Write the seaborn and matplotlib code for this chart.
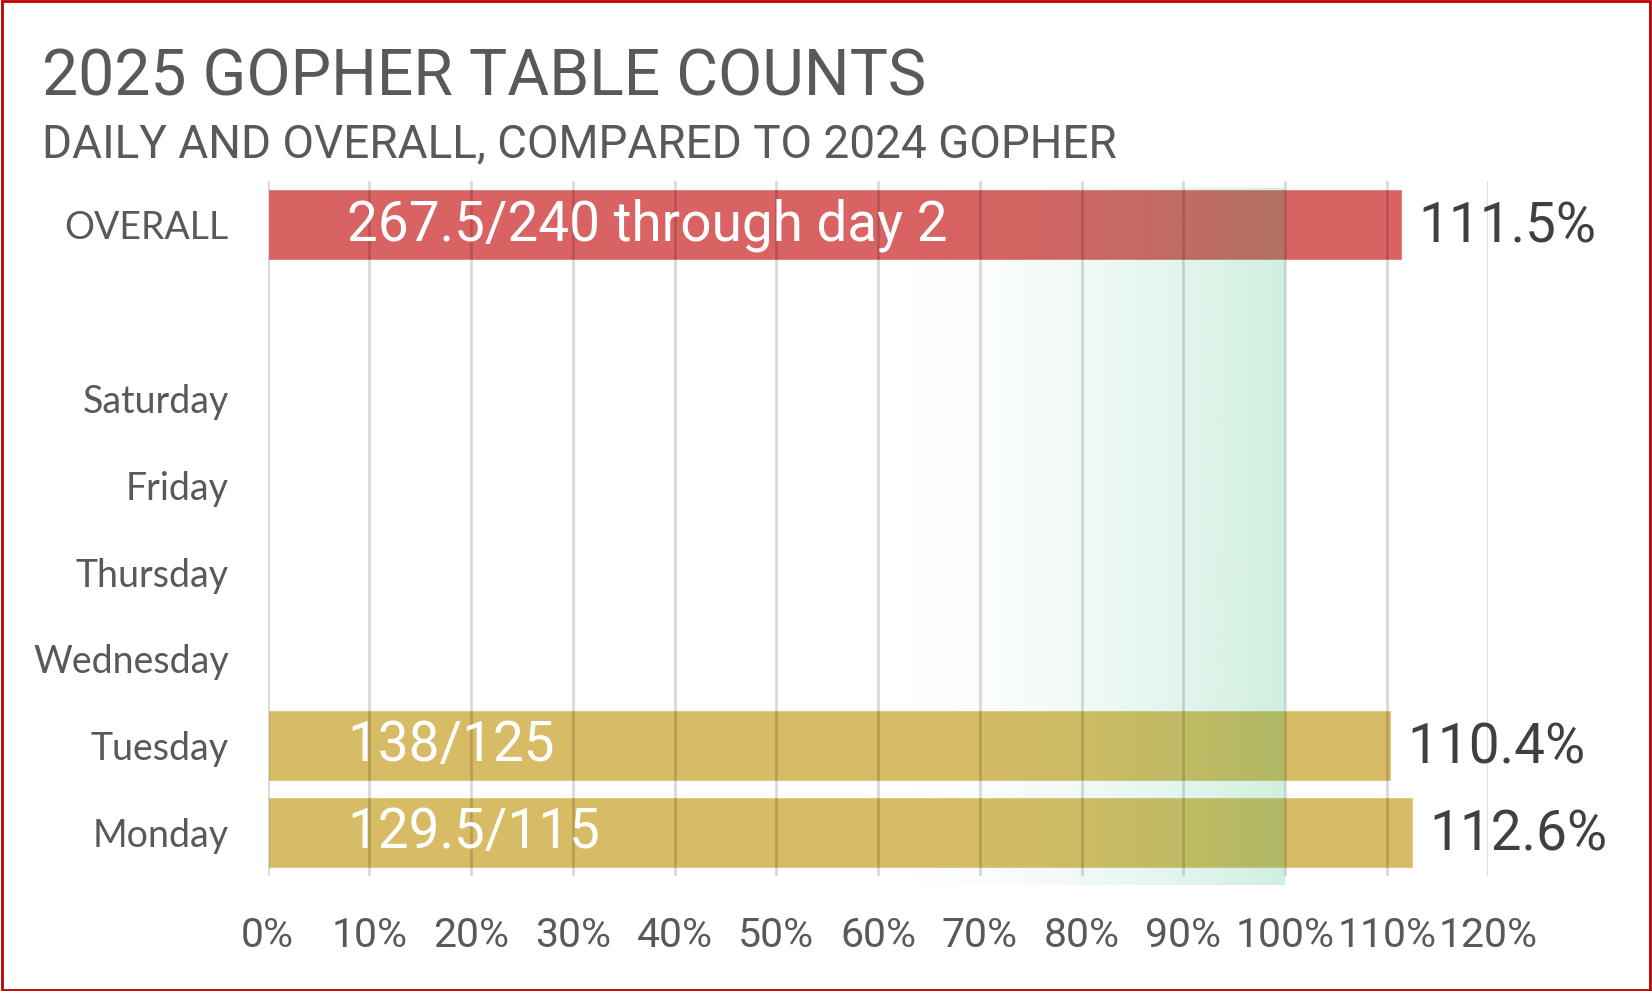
import numpy as np
import pandas as pd
import seaborn as sns
import matplotlib.pyplot as plt
from matplotlib.patches import Rectangle

# data
categories = ["OVERALL", " ", "Saturday", "Friday", "Thursday", "Wednesday", "Tuesday", "Monday"]
days = ["OVERALL", "Tuesday", "Monday"]
ratios = [1.115, 1.104, 1.126]
count_labels = ["267.5/240 through day 2", "138/125", "129.5/115"]
pct_labels = ["111.5%", "110.4%", "112.6%"]
xticks = [0, 0.1, 0.2, 0.3, 0.4, 0.5, 0.6, 0.7, 0.8, 0.9, 1.0, 1.1, 1.2]

bar_colors = {"OVERALL": "#D96262", "Tuesday": "#D8BC65", "Monday": "#D8BC65"}
grey = "#595959"

df = pd.DataFrame({"day": days, "ratio": ratios})

sns.set_style("white")
plt.rcParams['font.family'] = ['Roboto', 'DejaVu Sans']

fig = plt.figure(figsize=(16.52, 9.91), dpi=100)
ax = fig.add_axes([0.162, 0.116, 0.739, 0.701])

sns.barplot(data=df, x="ratio", y="day", order=categories, hue="day",
            palette=bar_colors, width=0.82, saturation=1, legend=False, ax=ax)

# green target band, fading in from the left
t = np.linspace(0, 1, 256)
rgba = np.zeros((1, 256, 4))
rgba[..., 0] = 20 / 255
rgba[..., 1] = 175 / 255
rgba[..., 2] = 100 / 255
rgba[..., 3] = 0.2 * t ** 1.6
ax.imshow(rgba, extent=[0.6, 1.0, 7.6, -0.42], aspect="auto",
          interpolation="bilinear", zorder=3, clip_on=False)

ax.set_xlim(0, 1.2)
ax.set_ylim(7.5, -0.5)

# labels
for d, r, c, p in zip(days, ratios, count_labels, pct_labels):
    y = categories.index(d)
    ax.text(0.078, y, c, color="white", fontsize=39.5, va="center", ha="left", zorder=5)
    ax.text(r + 0.016, y + 0.03, p, color="#404040", fontsize=39.5, va="center", ha="left", zorder=5)

ax.set_xticks(xticks)
ax.set_xticklabels([f"{int(round(t * 100))}%" for t in xticks])
ax.xaxis.grid(True, color="black", alpha=0.15, lw=2)
ax.yaxis.grid(False)
ax.set_axisbelow(False)
for s in ax.spines.values():
    s.set_visible(False)
ax.tick_params(axis="x", length=0, pad=29, labelsize=29.5, labelcolor=grey)
ax.tick_params(axis="y", length=0, pad=28, labelsize=27, labelcolor=grey)
for lab in ax.get_yticklabels():
    lab.set_fontfamily(["Lato", "DejaVu Sans"])
ax.set_xlabel("")
ax.set_ylabel("")

fig.text(0.0255, 0.904, "2025 GOPHER TABLE COUNTS", fontsize=46.3, color=grey, ha="left", va="baseline")
fig.text(0.0255, 0.841, "DAILY AND OVERALL, COMPARED TO 2024 GOPHER", fontsize=33, color=grey, ha="left", va="baseline")

fig.patches.append(Rectangle((0.001, 0.001), 0.998, 0.998, transform=fig.transFigure,
                             fill=False, edgecolor="#C00000", lw=2))

fig.savefig("out.png", dpi=100)
